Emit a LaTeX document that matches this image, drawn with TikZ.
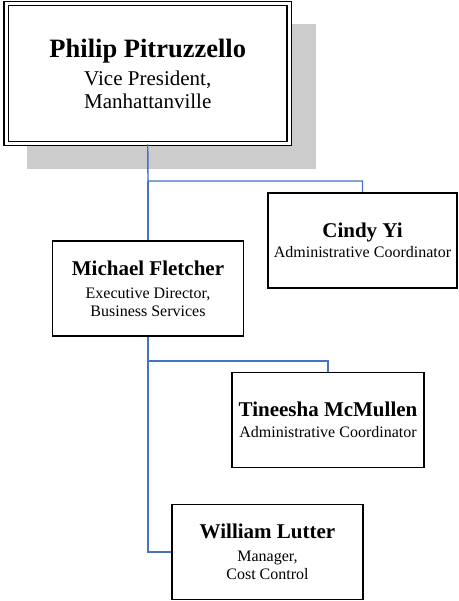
\documentclass[tikz,border=0pt]{standalone}
\usepackage{fontspec}
\setmainfont{Liberation Serif}
\usetikzlibrary{positioning}
\definecolor{linkblue}{HTML}{4472C4}
\newcommand{\boxname}[1]{{\fontsize{21}{24}\selectfont\bfseries #1}}

\begin{document}
\begin{tikzpicture}[x=1pt,y=-1pt,
			box/.style={draw,rectangle,fill=white,line width=1.8pt,minimum width=191pt,minimum height=95pt,inner sep=0pt,align=center,font=\fontsize{16}{18}\selectfont},
			small/.style={font=\fontsize{16}{18}\selectfont},
			link/.style={draw=linkblue,line width=1.4pt}]
			\useasboundingbox (0,0) rectangle (458,601);
			\fill[gray!40] (27,24) rectangle (316,169);
			\node (vp) [box,double,line width=1.6pt,double distance=2.5pt,minimum width=283pt,minimum height=140pt,
				font=\fontsize{21}{23}\selectfont] at (147.75,73.5)
				{{\fontsize{26.5}{30}\selectfont\bfseries Philip Pitruzzello}\\[5pt]Vice President,\\Manhattanville};
			\node (cindy) [box,small,minimum width=189pt] at (362.5,240.5)
				{\boxname{Cindy Yi}\\[2pt]Administrative Coordinator};
			\node (mike) [box] at (148,288.5)
				{\boxname{Michael Fletcher}\\[5pt]Executive Director,\\Business Services};
			\node (tineesha) [box,small,minimum width=192pt] at (328,420)
				{\boxname{Tineesha McMullen}\\[3pt]Administrative Coordinator};
			\node (william) [box] at (267.5,552)
				{\boxname{William Lutter}\\[5pt]Manager,\\Cost Control};
			\coordinate (j1) at (148,181);
			\coordinate (j2) at (148,361);
			\draw [link] (vp.south) -- (j1) -| (cindy.north);
			\draw [link] (j1) -- (mike.north);
			\draw [link] (mike.south) -- (j2) -| (tineesha.north);
			\draw [link] (j2) |- (william.west);
		\end{tikzpicture}
\end{document}
